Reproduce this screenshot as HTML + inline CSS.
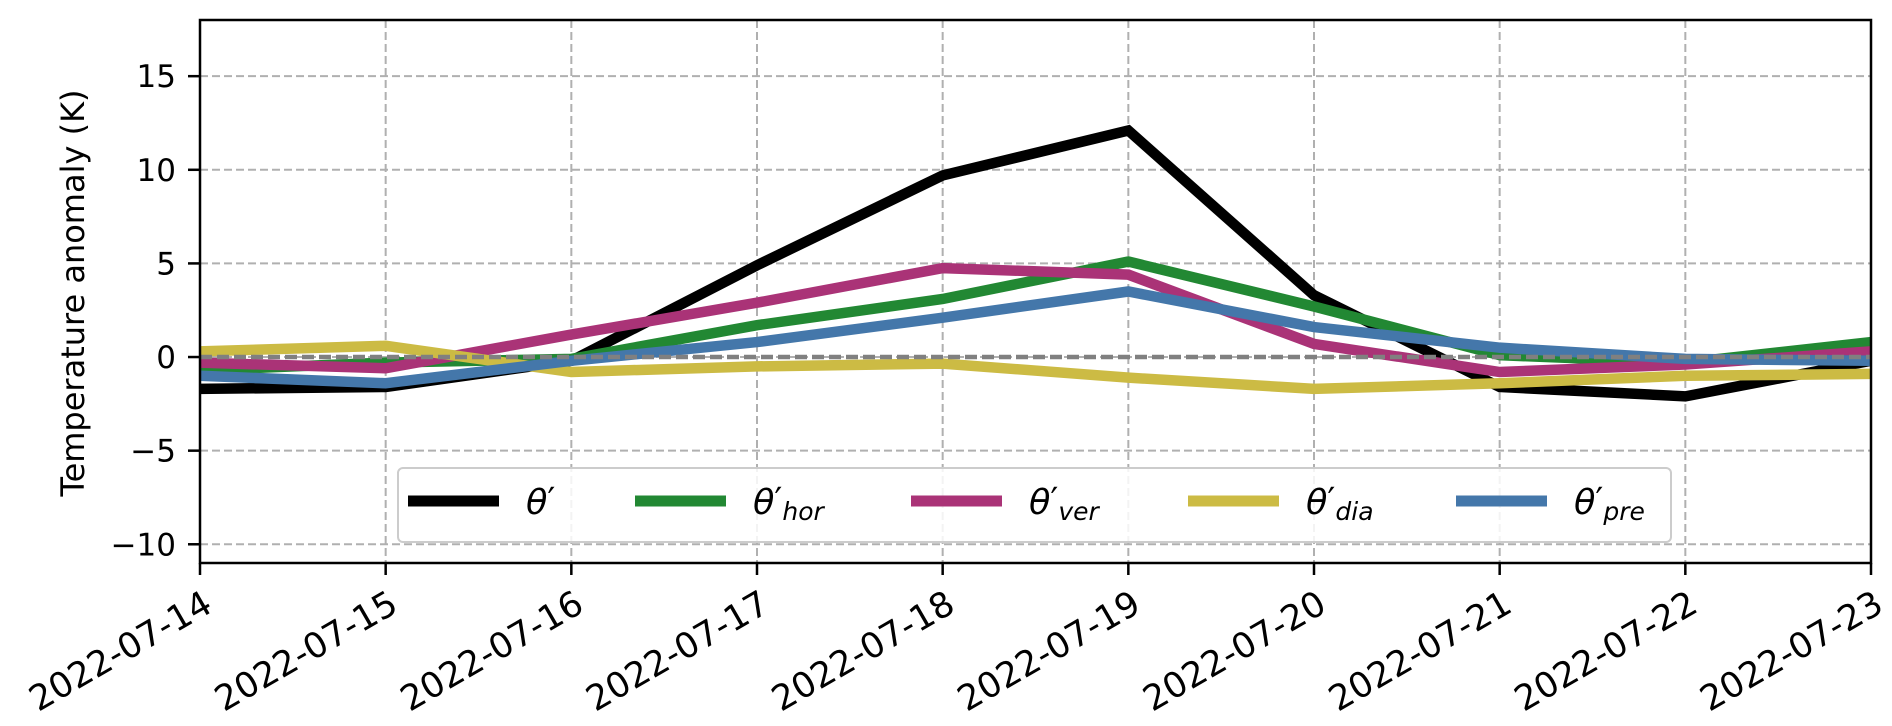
<!DOCTYPE html>
<html><head><meta charset="utf-8"><style>
body{margin:0;background:#fff}
svg{display:block;font-family:"DejaVu Sans","Liberation Sans",sans-serif}
</style></head><body>
<svg id="chart" width="1892" height="726" xmlns="http://www.w3.org/2000/svg">
<g id="grid"></g>
<g id="series"></g>
<g id="axes"></g>
<text transform="translate(84,293) rotate(-90)" text-anchor="middle" font-size="32" fill="#000">Temperature anomaly (K)</text>
<g id="legend"></g>
</svg>
<script>
const dates = ["2022-07-14","2022-07-15","2022-07-16","2022-07-17","2022-07-18","2022-07-19","2022-07-20","2022-07-21","2022-07-22","2022-07-23"];
const yTicks = [-10,-5,0,5,10,15];
const theta = [-1.7,-1.6,-0.2,4.9,9.7,12.1,3.3,-1.6,-2.1,-0.2];
const thetaHor = [-0.7,-0.3,-0.1,1.7,3.1,5.1,2.7,0.1,-0.3,0.8];
const thetaVer = [-0.3,-0.6,1.2,2.9,4.75,4.4,0.7,-0.8,-0.4,0.3];
const thetaDia = [0.3,0.6,-0.8,-0.5,-0.35,-1.1,-1.7,-1.4,-1.0,-0.9];
const thetaPre = [-1.0,-1.4,-0.2,0.8,2.1,3.5,1.6,0.5,-0.1,-0.2];

const NS="http://www.w3.org/2000/svg";
const L=200,R=1871,T=20,B=563,YMIN=-11,YMAX=18;
const xs=i=>L+i*(R-L)/(dates.length-1);
const ys=v=>B-(v-YMIN)*(B-T)/(YMAX-YMIN);
function mk(tag,attrs,parent){const e=document.createElementNS(NS,tag);for(const k in attrs)e.setAttribute(k,attrs[k]);parent.appendChild(e);return e;}
const grid=document.getElementById('grid'),axes=document.getElementById('axes'),ser=document.getElementById('series'),leg=document.getElementById('legend');

dates.forEach((d,i)=>{
  const g=mk('line',{x1:xs(i),x2:xs(i),y1:T,y2:B,stroke:'#b0b0b0','stroke-width':2,'stroke-dasharray':'8,4'},grid);
  
  
  const t=mk('line',{x1:xs(i),x2:xs(i),y1:B,y2:B+12,stroke:'#000','stroke-width':2.5},axes);
  
  
  const lb=mk('text',{transform:`translate(${xs(i)+2},${B+26}) rotate(-30)`,'text-anchor':'end','dominant-baseline':'hanging','font-size':35,fill:'#000'},axes);
  lb.textContent=d;
  
  
});
yTicks.forEach(v=>{
  const g=mk('line',{x1:L,x2:R,y1:ys(v),y2:ys(v),stroke:'#b0b0b0','stroke-width':2,'stroke-dasharray':'8,4'},grid);
  
  
  const t=mk('line',{x1:L-12,x2:L,y1:ys(v),y2:ys(v),stroke:'#000','stroke-width':2.5},axes);
  
  
  const lb=mk('text',{x:L-24,y:ys(v)+11,'text-anchor':'end','font-size':31,fill:'#000'},axes);
  lb.textContent=(v<0?'\u2212'+(-v):v);
  
  
});
const fr=mk('rect',{x:L,y:T,width:R-L,height:B-T,fill:'none',stroke:'#000','stroke-width':2.5},axes);



const seriesList=[
 {d:theta,c:'#000000',n:'theta-line',sub:''},
 {d:thetaHor,c:'#228833',n:'theta-hor-line',sub:'hor'},
 {d:thetaVer,c:'#aa3377',n:'theta-ver-line',sub:'ver'},
 {d:thetaDia,c:'#ccbb44',n:'theta-dia-line',sub:'dia'},
 {d:thetaPre,c:'#4477aa',n:'theta-pre-line',sub:'pre'}];
seriesList.forEach(s=>{
  const p=mk('polyline',{points:s.d.map((v,i)=>xs(i)+','+ys(v)).join(' '),fill:'none',stroke:s.c,'stroke-width':10.5,'stroke-linejoin':'miter'},ser);
  
  
});
const z=mk('line',{x1:L,x2:R,y1:ys(0),y2:ys(0),stroke:'#808080','stroke-width':4.5,'stroke-dasharray':'12,5'},ser);



const box=mk('rect',{x:398,y:468,width:1273,height:74,rx:5,fill:'#fff','fill-opacity':0.85,stroke:'#cccccc','stroke-width':2},leg);


const hx=[408,635,911,1188,1456];
seriesList.forEach((s,i)=>{
  const h=mk('line',{x1:hx[i],x2:hx[i]+91,y1:501,y2:501,stroke:s.c,'stroke-width':11},leg);
  
  
  const t=mk('text',{x:hx[i]+118,y:514,'font-size':35,'font-style':'italic',fill:'#000'},leg);
  
  
  const a=mk('tspan',{},t);a.textContent='θ';
  const b=mk('tspan',{'font-style':'normal',dy:-2},t);b.textContent='\u2032';
  if(s.sub){const ts=mk('tspan',{'font-size':25,dy:8},t);ts.textContent=s.sub;}
});
</script>
</body></html>
